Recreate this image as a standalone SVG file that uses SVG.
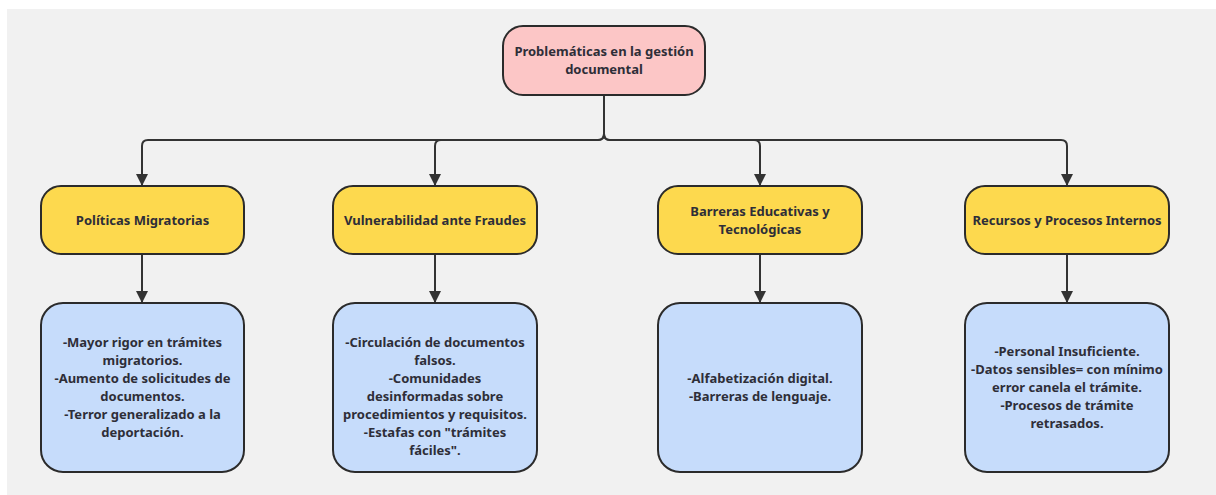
<svg xmlns="http://www.w3.org/2000/svg" width="1216" height="495" viewBox="0 0 1216 495">
<defs>
<marker id="arr" viewBox="0 0 12 12" refX="11" refY="6" markerWidth="12" markerHeight="12" markerUnits="userSpaceOnUse" orient="auto">
<path d="M0,0 L12,6 L0,12 Z" fill="#333"/>
</marker>
<style>
.n rect{stroke:#2b2b2b;stroke-width:2}
.root rect{fill:#fcc6c6}
.cat rect{fill:#fdd94e}
.det rect{fill:#c6dcfb}
text{font-family:"Noto Sans","Open Sans","Liberation Sans",sans-serif;font-weight:bold;font-size:13px;fill:#2e2e38;text-anchor:middle}
.c path{fill:none;stroke:#333;stroke-width:2}
</style>
</defs>
<rect x="0" y="0" width="1216" height="495" fill="#ffffff"/>
<rect x="7" y="9" width="1209" height="486" fill="#f1f1f1"/>
<g class="c" id="connectors">
<path d="M604,95 V134 Q604,140 598,140 H148 Q142,140 142,146 V185" marker-end="url(#arr)"/>
<path d="M604,134 Q604,140 598,140 H441 Q435,140 435,146 V185" marker-end="url(#arr)"/>
<path d="M604,134 Q604,140 610,140 H754 Q760,140 760,146 V185" marker-end="url(#arr)"/>
<path d="M604,134 Q604,140 610,140 H1061 Q1067,140 1067,146 V185" marker-end="url(#arr)"/>
<path d="M142,254 V302" marker-end="url(#arr)"/>
<path d="M435,254 V302" marker-end="url(#arr)"/>
<path d="M760,254 V302" marker-end="url(#arr)"/>
<path d="M1067,254 V302" marker-end="url(#arr)"/>
</g>
<g id="root" class="n root">
<rect x="503" y="26" width="202" height="69" rx="20"/>
<text x="604" y="56">Problemáticas en la gestión</text>
<text x="604" y="74">documental</text>
</g>
<g id="cat1" class="n cat">
<rect x="41" y="186" width="203" height="68" rx="20"/>
<text x="142.5" y="225">Políticas Migratorias</text>
</g>
<g id="cat2" class="n cat">
<rect x="333" y="186" width="204" height="68" rx="20"/>
<text x="435" y="225">Vulnerabilidad ante Fraudes</text>
</g>
<g id="cat3" class="n cat">
<rect x="658" y="186" width="204" height="68" rx="20"/>
<text x="760" y="216">Barreras Educativas y</text>
<text x="760" y="234">Tecnológicas</text>
</g>
<g id="cat4" class="n cat">
<rect x="965" y="186" width="204" height="68" rx="20"/>
<text x="1067" y="225">Recursos y Procesos Internos</text>
</g>
<g id="det1" class="n det">
<rect x="41" y="303" width="203" height="169" rx="22"/>
<text x="142.5" y="347">-Mayor rigor en trámites</text>
<text x="142.5" y="365">migratorios.</text>
<text x="142.5" y="383">-Aumento de solicitudes de</text>
<text x="142.5" y="401">documentos.</text>
<text x="142.5" y="419">-Terror generalizado a la</text>
<text x="142.5" y="437">deportación.</text>
</g>
<g id="det2" class="n det">
<rect x="333" y="303" width="204" height="169" rx="22"/>
<text x="435" y="347">-Circulación de documentos</text>
<text x="435" y="365">falsos.</text>
<text x="435" y="383">-Comunidades</text>
<text x="435" y="401">desinformadas sobre</text>
<text x="435" y="419">procedimientos y requisitos.</text>
<text x="435" y="437">-Estafas con "trámites</text>
<text x="435" y="455">fáciles".</text>
</g>
<g id="det3" class="n det">
<rect x="658" y="303" width="204" height="169" rx="22"/>
<text x="760" y="383">-Alfabetización digital.</text>
<text x="760" y="401">-Barreras de lenguaje.</text>
</g>
<g id="det4" class="n det">
<rect x="965" y="303" width="204" height="169" rx="22"/>
<text x="1067" y="356">-Personal Insuficiente.</text>
<text x="1067" y="374">-Datos sensibles= con mínimo</text>
<text x="1067" y="392">error canela el trámite.</text>
<text x="1067" y="410">-Procesos de trámite</text>
<text x="1067" y="428">retrasados.</text>
</g>
</svg>
